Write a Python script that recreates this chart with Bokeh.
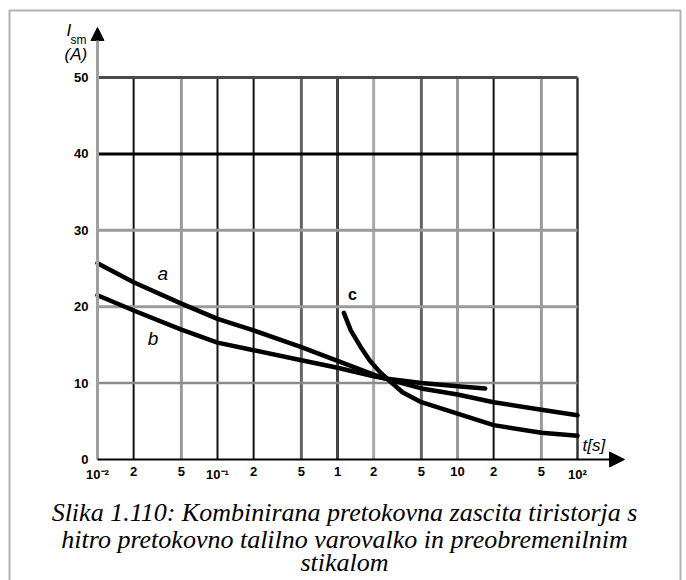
from bokeh.plotting import figure
from bokeh.models import (Range1d, Label, Arrow, NormalHead, ColumnDataSource, BoxAnnotation)
from bokeh.core.properties import value
from bokeh.embed import file_html
from bokeh.resources import INLINE

# ---------------- data ----------------
X_TICKS = [0.01, 0.02, 0.05, 0.1, 0.2, 0.5, 1, 2, 5, 10, 20, 50, 100]
X_LABELS = ["10\u207b\u00b2", "2", "5", "10\u207b\u00b9", "2", "5", "1", "2", "5",
            "10", "2", "5", "10\u00b2"]
Y_TICKS = [0, 10, 20, 30, 40, 50]
Y_LABELS = ["0", "10", "20", "30", "40", "50"]

t_a = [0.01, 0.02, 0.05, 0.1, 0.2, 0.5, 1, 2, 2.5, 5, 10, 20, 50, 100]
i_a = [25.7, 23.2, 20.4, 18.4, 16.9, 14.7, 12.9, 11.1, 10.6, 9.3, 8.5, 7.5, 6.5, 5.8]

t_b = [0.01, 0.02, 0.05, 0.1, 0.2, 0.5, 1, 2, 2.5, 5, 10, 17]
i_b = [21.5, 19.5, 17.0, 15.3, 14.3, 13.0, 12.0, 10.9, 10.6, 10.0, 9.6, 9.3]

t_c = [1.13, 1.29, 1.55, 1.85, 2.24, 2.71, 3.48, 5, 10, 20, 50, 100]
i_c = [19.2, 16.9, 14.8, 13.0, 11.5, 10.3, 8.8, 7.5, 6.0, 4.5, 3.5, 3.1]

# curve labels: text, t, I
LBL_TEXT = ["a", "b", "c"]
LBL_T = [0.035, 0.029, 1.33]
LBL_I = [24.3, 15.8, 21.6]

CAPTION = ["Slika 1.110: Kombinirana pretokovna zascita tiristorja s",
           "hitro pretokovno talilno varovalko in preobremenilnim",
           "stikalom"]

# ---------------- styling / geometry ----------------
W, H = 686, 580
ORIG_X, ORIG_Y = 97, 459          # canvas pixel of (1e-2, 0)
PX_PER_DECADE = 120.0
PX_PER_UNIT = 7.64

V_GRID_COLORS = ["#111111", "#9a9a9a", "#111111", "#111111", "#666666", "#444444",
                 "#a8a8a8", "#666666", "#9a9a9a", "#111111", "#9a9a9a", "#333333"]
V_GRID_WIDTHS = [2, 3, 2, 2, 3, 3, 3, 3, 3, 2, 3, 2.5]
H_GRID_COLORS = ["#8a8a8a", "#9a9a9a", "#9a9a9a", "#000000", "#4a4a4a"]
H_GRID_WIDTHS = [2.5, 3, 3, 3, 3]

SANS = value("Liberation Sans")

X_MIN = X_TICKS[0]
x_start = X_MIN * 10 ** (-ORIG_X / PX_PER_DECADE)
x_end = X_MIN * 10 ** ((W - ORIG_X) / PX_PER_DECADE)
y_start = -(H - ORIG_Y) / PX_PER_UNIT
y_end = ORIG_Y / PX_PER_UNIT

p = figure(width=W, height=H, x_axis_type="log",
           x_range=Range1d(x_start, x_end), y_range=Range1d(y_start, y_end),
           output_backend="svg", toolbar_location=None,
           min_border=0, min_border_left=0, min_border_right=0,
           min_border_top=0, min_border_bottom=0)
p.axis.visible = False
p.outline_line_color = None
p.xgrid.visible = False
p.ygrid.visible = False
p.background_fill_color = "white"
p.border_fill_color = "white"

# grid lines
n_v = len(X_TICKS) - 1
vsrc = ColumnDataSource(dict(x=X_TICKS[1:], y0=[Y_TICKS[0]] * n_v, y1=[Y_TICKS[-1]] * n_v,
                             c=V_GRID_COLORS, w=V_GRID_WIDTHS))
p.segment(x0="x", x1="x", y0="y0", y1="y1", line_color="c", line_width="w", source=vsrc)
n_h = len(Y_TICKS) - 1
hsrc = ColumnDataSource(dict(y=Y_TICKS[1:], x0=[X_TICKS[0]] * n_h, x1=[X_TICKS[-1]] * n_h,
                             c=H_GRID_COLORS, w=H_GRID_WIDTHS))
p.segment(x0="x0", x1="x1", y0="y", y1="y", line_color="c", line_width="w", source=hsrc)

# axes with arrows
Y_ARROW_TIP = (ORIG_Y - 27) / PX_PER_UNIT
X_ARROW_TIP = X_MIN * 10 ** ((624 - ORIG_X) / PX_PER_DECADE)
p.add_layout(Arrow(x_start=X_MIN, y_start=Y_TICKS[0], x_end=X_MIN, y_end=Y_ARROW_TIP,
                   line_color="#a0a0a0", line_width=3,
                   end=NormalHead(size=13, fill_color="black", line_color="black")))
p.add_layout(Arrow(x_start=X_MIN, y_start=Y_TICKS[0], x_end=X_ARROW_TIP, y_end=Y_TICKS[0],
                   line_color="black", line_width=2,
                   end=NormalHead(size=15, fill_color="black", line_color="black")))

# tick labels
p.text(x=X_TICKS, y=[Y_TICKS[0]] * len(X_TICKS), text=X_LABELS, y_offset=7,
       text_align="center", text_baseline="top", text_font=SANS,
       text_font_size="13px", text_font_style="bold", text_color="black")
p.text(x=[X_MIN] * len(Y_TICKS), y=Y_TICKS, text=Y_LABELS, x_offset=-9,
       text_align="right", text_baseline="middle", text_font=SANS,
       text_font_size="13px", text_font_style="bold", text_color="black")

# curves
for t, i in ((t_a, i_a), (t_b, i_b), (t_c, i_c)):
    p.line(t, i, line_color="black", line_width=4.5, line_join="round", line_cap="round")

p.text(x=LBL_T[:2], y=LBL_I[:2], text=LBL_TEXT[:2], text_align="center",
       text_baseline="middle", text_font=SANS, text_font_size="19px",
       text_font_style="italic", text_color="black")
p.text(x=LBL_T[2:], y=LBL_I[2:], text=LBL_TEXT[2:], text_align="center",
       text_baseline="middle", text_font=SANS, text_font_size="16px",
       text_font_style="bold", text_color="black")

# axis titles / caption (screen units measured from the canvas bottom-left)
def lab(x, y_mid_top_down, text, size, style="normal", font="Liberation Sans", align="left"):
    p.add_layout(Label(x=x, y=H - y_mid_top_down, x_units="screen", y_units="screen",
                       text=text, text_font=font, text_font_size=size,
                       text_font_style=style, text_align=align,
                       text_baseline="middle", text_color="black"))

lab(66, 30, "I", "17px", "italic")
lab(70, 39, "sm", "12px")
lab(64, 54, "(A)", "17px", "italic")
lab(582, 445, "t[s]", "17px", "italic")

for line, mid in zip(CAPTION, [512, 539, 562]):
    lab(344, mid, line, "26px", "italic", "Liberation Serif", "center")

# outer frame (open at the bottom edge of the window)
p.add_layout(BoxAnnotation(left=9, right=680, top=10, bottom=H + 40,
                           left_units="canvas", right_units="canvas",
                           top_units="canvas", bottom_units="canvas",
                           fill_alpha=0, line_color="black", line_width=2))

open("out.html", "w").write(file_html(p, INLINE))
